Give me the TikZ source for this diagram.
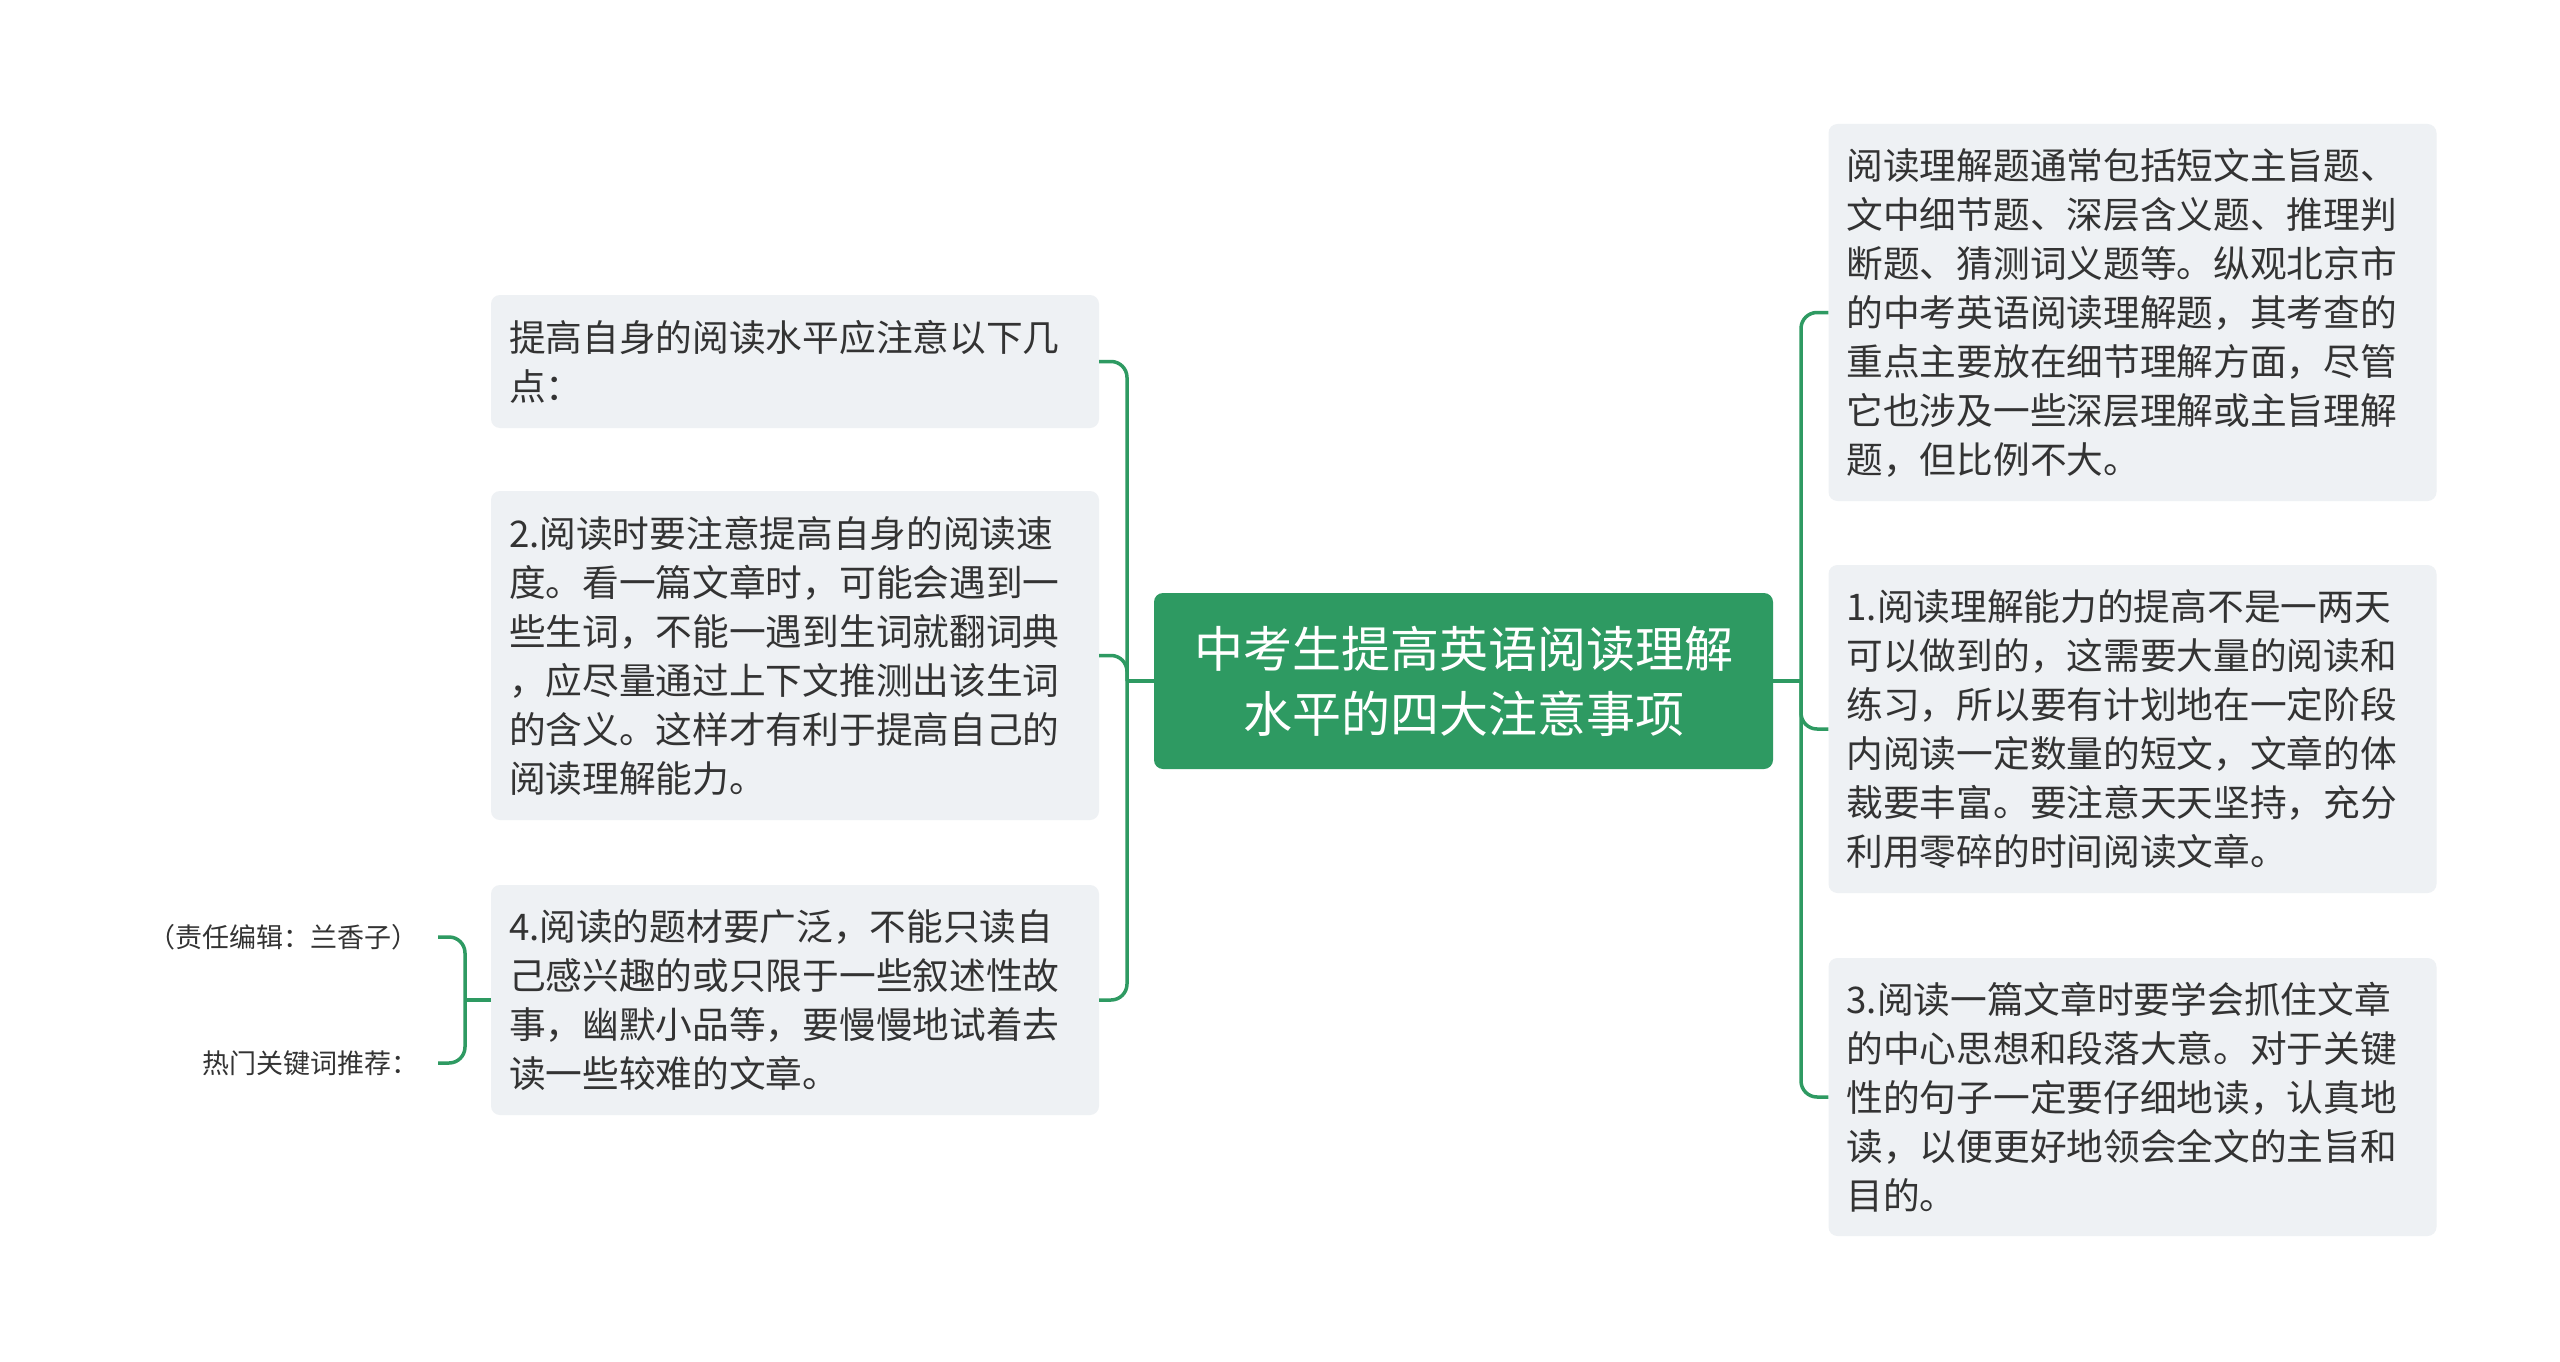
\documentclass[tikz,border=0pt]{standalone}
\usepackage{fontspec}
\setmainfont{Noto Sans CJK SC}
\definecolor{mgreen}{HTML}{2E9A62}
\definecolor{boxfill}{HTML}{EEF1F4}
\definecolor{txt}{HTML}{333333}
\begin{document}
\begin{tikzpicture}[x=1pt,y=-1pt,
  topicbox/.style={draw=none,fill=boxfill,rounded corners=9pt,align=left,
    text width=572pt,inner xsep=18pt,inner ysep=0pt,text=txt,
    font=\fontsize{36.7}{49}\selectfont},
  centralbox/.style={draw=none,fill=mgreen,rounded corners=9pt,align=center,
    minimum width=619pt,minimum height=176pt,inner sep=0pt,text=white,
    font=\fontsize{49}{65}\selectfont},
  notetext/.style={text=txt,inner sep=0pt,anchor=east,font=\fontsize{27}{32}\selectfont},
  link/.style={draw=mgreen,line width=3.5pt,rounded corners=16pt}]
\fill[white] (0,0) rectangle (2560,1362);
\useasboundingbox (0,0) rectangle (2560,1362);

\node[centralbox] (C) at (1463.5,681) {中考生提高英语阅读理解\\水平的四大注意事项};

\node[topicbox,minimum height=133pt] (L1) at (795,361.5) {提高自身的阅读水平应注意以下几\\点：};
\node[topicbox,minimum height=329pt] (L2) at (795,655.5) {2.阅读时要注意提高自身的阅读速\\度。看一篇文章时，可能会遇到一\\些生词，不能一遇到生词就翻词典\\，应尽量通过上下文推测出该生词\\的含义。这样才有利于提高自己的\\阅读理解能力。};
\node[topicbox,minimum height=230pt] (L3) at (795,1000) {4.阅读的题材要广泛，不能只读自\\己感兴趣的或只限于一些叙述性故\\事，幽默小品等，要慢慢地试着去\\读一些较难的文章。};

\node[topicbox,minimum height=377pt] (R1) at (2132.5,312.5) {阅读理解题通常包括短文主旨题、\\文中细节题、深层含义题、推理判\\断题、猜测词义题等。纵观北京市\\的中考英语阅读理解题，其考查的\\重点主要放在细节理解方面，尽管\\它也涉及一些深层理解或主旨理解\\题，但比例不大。};
\node[topicbox,minimum height=328pt] (R2) at (2132.5,729) {1.阅读理解能力的提高不是一两天\\可以做到的，这需要大量的阅读和\\练习，所以要有计划地在一定阶段\\内阅读一定数量的短文，文章的体\\裁要丰富。要注意天天坚持，充分\\利用零碎的时间阅读文章。};
\node[topicbox,minimum height=278pt] (R3) at (2132.5,1097) {3.阅读一篇文章时要学会抓住文章\\的中心思想和段落大意。对于关键\\性的句子一定要仔细地读，认真地\\读，以便更好地领会全文的主旨和\\目的。};

\node[notetext] (N1) at (419,937) {（责任编辑：兰香子）};
\node[notetext] (N2) at (419,1063) {热门关键词推荐：};

\coordinate (lx) at (1127,681);
\coordinate (rx) at (1801,681);
\coordinate (fx) at (465,1000);
\coordinate (e1) at (438,937);
\coordinate (e2) at (438,1063);

\draw[link] (L1.east) -| (lx) |- (L3.east);
\draw[link] (L2.east) -| (lx);
\draw[link] (C.west) -- (lx);

\draw[link] (R1.west) -| (rx) |- (R3.west);
\draw[link] (R2.west) -| (rx);
\draw[link] (C.east) -- (rx);

\draw[link] (e1) -| (fx) |- (e2);
\draw[link] (L3.west) -- (fx);
\end{tikzpicture}
\end{document}
